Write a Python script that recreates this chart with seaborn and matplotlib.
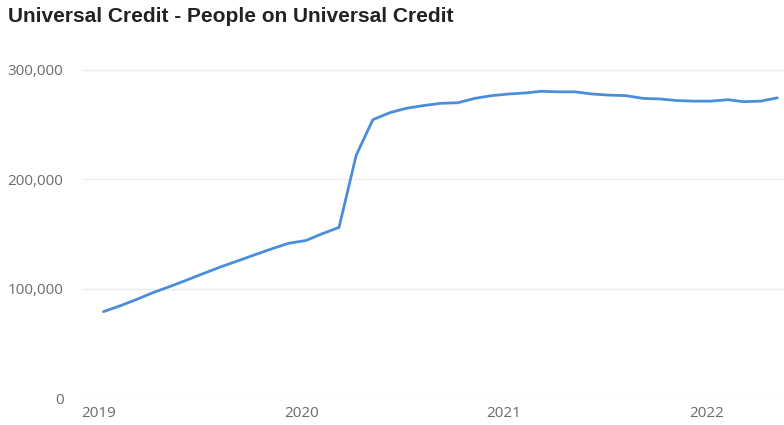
import pandas as pd
import matplotlib
matplotlib.use("Agg")
import matplotlib.pyplot as plt
import matplotlib.dates as mdates
from matplotlib.ticker import FuncFormatter
import seaborn as sns

# Monthly counts, Jan 2019 - May 2022
start_month = "2019-01-01"
people = [
    79000, 84500, 90000, 96500, 102000, 108000, 114000, 120000,
    125500, 131000, 136500, 141500, 144000, 150500, 156000, 222000,
    254500, 261000, 265000, 267500, 269500, 270000, 274000, 276500,
    278000, 279000, 280500, 280000, 280000, 278000, 277000, 276500,
    274000, 273500, 272000, 271500, 271500, 272800, 271000, 271500,
    274500,
]
y_ticks = [0, 100000, 200000, 300000]
title = "Universal Credit - People on Universal Credit"

dates = pd.date_range(start_month, periods=len(people), freq="MS") + pd.Timedelta(days=8)
df = pd.DataFrame({"date": dates, "people": people})

sns.set_style("white")
plt.rcParams["font.family"] = ["Open Sans", "DejaVu Sans"]

fig = plt.figure(figsize=(7.84, 4.25), dpi=100)
ax = fig.add_axes([83 / 784, 27 / 425, 701 / 784, 333.5 / 425])

sns.lineplot(data=df, x="date", y="people", ax=ax, color="#4a8edb", linewidth=2.0)

ax.set_ylim(0, 305000)
ax.set_xlim(pd.Timestamp("2018-12-03"), pd.Timestamp("2022-05-21"))
ax.set_yticks(y_ticks)
ax.yaxis.set_major_formatter(FuncFormatter(lambda v, p: f"{v:,.0f}"))
ax.xaxis.set_major_locator(mdates.YearLocator())
ax.xaxis.set_major_formatter(mdates.DateFormatter("%Y"))

ax.grid(axis="y", color="#ebebeb", linewidth=1.0)
ax.grid(axis="x", visible=False)
for s in ax.spines.values():
    s.set_visible(False)
ax.tick_params(axis="y", length=0, pad=14, labelsize=11, labelcolor="#6b6b6b")
ax.tick_params(axis="x", length=0, pad=6, labelsize=11, labelcolor="#6b6b6b")
ax.set_xlabel("")
ax.set_ylabel("")

fig.text(8 / 784, 1 - 17 / 425, title, fontsize=15, fontweight="bold",
         color="#222222", va="center", ha="left", family=["Liberation Sans", "DejaVu Sans"])

fig.savefig("out.png", dpi=100)
